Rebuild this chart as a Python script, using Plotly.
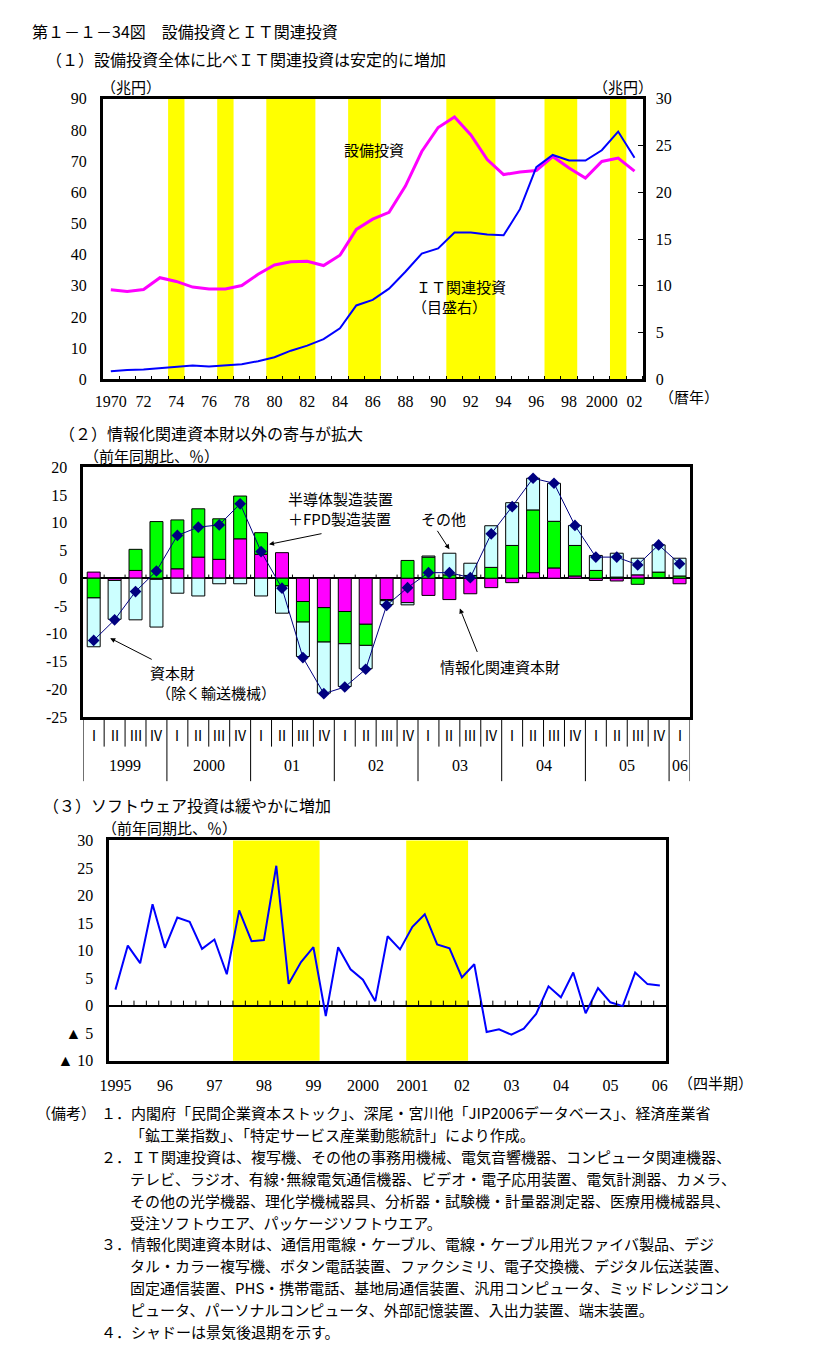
import plotly.graph_objects as go

W, H = 829, 1356


def px_x(p):
    return p / W


def px_y(p):
    return 1 - p / H


# ---------------- Panel 1 data ----------------
years = list(range(1970, 2003))
capex = [28.7, 28.2, 28.8, 32.6, 31.4, 29.6, 29.0, 29.0, 30.1, 33.7, 36.7, 37.7, 37.9,
         36.5, 39.8, 48.1, 51.4, 53.6, 62.0, 73.1, 80.8, 84.2, 78.4, 70.5, 65.7, 66.5,
         67.0, 71.5, 67.8, 64.6, 69.9, 71.0, 66.8]
it_invest = [0.85, 1.0, 1.05, 1.2, 1.37, 1.48, 1.37, 1.48, 1.62, 1.94, 2.36, 3.06, 3.6,
             4.3, 5.46, 7.9, 8.5, 9.7, 11.5, 13.45, 14.0, 15.7, 15.7, 15.5, 15.4, 18.2,
             22.7, 24.0, 23.4, 23.4, 24.5, 26.5, 23.7]
p1_tickvals = list(range(1970, 2003, 2))
p1_ticktext = ["1970", "72", "74", "76", "78", "80", "82", "84", "86", "88", "90", "92",
               "94", "96", "98", "2000", "02"]
rec1_start = [1974, 1977, 1980, 1985, 1991, 1997, 2001]
rec1_end = [1974, 1977, 1982, 1986, 1993, 1998, 2001]

# ---------------- Panel 2 data ----------------
q_labels = ["Ⅰ", "Ⅱ", "Ⅲ", "Ⅳ"] * 7 + ["Ⅰ"]
q_years = (["1999"] * 4 + ["2000"] * 4 + ["01"] * 4 + ["02"] * 4 + ["03"] * 4
           + ["04"] * 4 + ["05"] * 4 + ["06"])
info_cap = [1.1, -0.4, 1.4, -0.2, 1.7, 3.8, 3.4, 7.1, 4.3, 4.6, -4.2, -5.3, -6.0, -8.3,
            -3.85, -4.4, -3.1, -3.85, -2.8, -1.7, -0.8, 1.0, 1.85, 0.4, -0.4, -0.5, 0.6,
            0.1, -1.0]
semi_fpd = [-3.55, 0.0, 3.8, 10.2, 8.8, 8.7, 7.3, 7.7, 3.9, -1.4, -3.7, -6.2, -5.8, -3.8,
            -0.2, 3.2, 3.8, 0.6, 0.5, 1.95, 5.9, 11.3, 8.4, 5.5, 1.4, 0.2, -1.1, 1.0, 0.4]
others = [-8.8, -7.0, -7.5, -8.6, -2.7, -3.2, -1.0, -1.0, -3.2, -4.9, -6.2, -9.2, -7.7,
          -4.2, -0.7, -0.4, 0.2, 3.9, 2.2, 7.5, 7.7, 5.7, 6.85, 3.6, 2.7, 4.3, 3.0, 4.9, 3.2]
capital_goods = [-11.2, -7.5, -2.4, 1.3, 7.7, 9.2, 9.6, 13.4, 4.8, -1.8, -14.3, -20.8,
                 -19.6, -16.4, -4.9, -1.7, 1.0, 1.0, 0.1, 8.0, 12.9, 18.0, 17.1, 9.5, 3.8,
                 3.8, 2.4, 6.0, 2.6]
p2_tickvals = [-25, -20, -15, -10, -5, 0, 5, 10, 15, 20]
p2_ticktext = ["-25", "-20", "-15", "-10", "-5", "0", "5", "10", "15", "20"]

# ---------------- Panel 3 data ----------------
sw_periods = [f"{y}Q{q}" for y in range(1995, 2006) for q in range(1, 5)] + ["2006Q1"]
software = [2.9, 10.9, 7.7, 18.4, 10.5, 16.0, 15.2, 10.3, 12.0, 5.7, 17.3, 11.7, 11.9,
            25.4, 3.95, 7.9, 10.6, -1.9, 10.6, 6.6, 4.7, 0.8, 12.6, 10.2, 14.3, 16.6,
            11.1, 10.4, 5.1, 7.5, -4.8, -4.3, -5.3, -4.2, -1.5, 3.5, 1.5, 6.0, -1.4, 3.2,
            0.6, -0.1, 6.0, 3.9, 3.65]
p3_ticktext = ["1995", "96", "97", "98", "99", "2000", "2001", "02", "03", "04", "05", "06"]
p3_tickvals = [sw_periods.index(f"{1995 + k}Q1") for k in range(len(p3_ticktext))]
p3_yvals = [-10, -5, 0, 5, 10, 15, 20, 25, 30]
p3_ytext = ["▲ 10", "▲ 5", "0", "5", "10", "15", "20", "25", "30"]
rec3 = [("1997Q3", "1999Q1"), ("2001Q1", "2002Q1")]

notes = [
    "１．内閣府「民間企業資本ストック」、深尾・宮川他「JIP2006データベース」、経済産業省",
    "「鉱工業指数」、「特定サービス産業動態統計」により作成。",
    "２．ＩＴ関連投資は、複写機、その他の事務用機械、電気音響機器、コンピュータ関連機器、",
    "テレビ、ラジオ、有線･無線電気通信機器、ビデオ・電子応用装置、電気計測器、カメラ、",
    "その他の光学機器、理化学機械器具、分析器・試験機・計量器測定器、医療用機械器具、",
    "受注ソフトウエア、パッケージソフトウエア。",
    "３．情報化関連資本財は、通信用電線・ケーブル、電線・ケーブル用光ファイバ製品、デジ",
    "タル・カラー複写機、ボタン電話装置、ファクシミリ、電子交換機、デジタル伝送装置、",
    "固定通信装置、PHS・携帯電話、基地局通信装置、汎用コンピュータ、ミッドレンジコン",
    "ピュータ、パーソナルコンピュータ、外部記憶装置、入出力装置、端末装置。",
    "４．シャドーは景気後退期を示す。",
]
note_indent = [0, 1, 0, 1, 1, 1, 0, 1, 1, 1, 0]

JP = "Noto Sans CJK JP"
NUM = "Liberation Serif"
YELLOW = "#FFFF00"

fig = go.Figure()

# Panel 1 traces
fig.add_trace(go.Scatter(x=years, y=capex, mode="lines", line=dict(color="#FF00FF", width=3),
                         xaxis="x", yaxis="y", name="設備投資"))
fig.add_trace(go.Scatter(x=years, y=it_invest, mode="lines", line=dict(color="#0000FF", width=2),
                         xaxis="x", yaxis="y2", name="ＩＴ関連投資"))

# Panel 2 traces
idx2 = list(range(len(q_labels)))
for vals, col, nm in [(info_cap, "#FF00FF", "情報化関連資本財"),
                      (semi_fpd, "#00FF00", "半導体製造装置＋FPD製造装置"),
                      (others, "#CCFFFF", "その他")]:
    fig.add_trace(go.Bar(x=idx2, y=vals, marker=dict(color=col, line=dict(color="black", width=1)),
                         xaxis="x2", yaxis="y3", name=nm, width=0.62))
fig.add_trace(go.Scatter(x=idx2, y=capital_goods, mode="lines+markers",
                         line=dict(color="#000080", width=1),
                         marker=dict(symbol="diamond", size=9, color="#000080"),
                         xaxis="x2", yaxis="y3", name="資本財（除く輸送機械）"))

# Panel 3 trace
idx3 = list(range(len(sw_periods)))
fig.add_trace(go.Scatter(x=idx3, y=software, mode="lines", line=dict(color="#0000FF", width=2),
                         xaxis="x3", yaxis="y4", name="ソフトウェア投資"))

shapes = []
for s, e in zip(rec1_start, rec1_end):
    shapes.append(dict(type="rect", xref="x", yref="y domain", x0=s - 0.5, x1=e + 0.5, y0=0, y1=1,
                       fillcolor=YELLOW, line=dict(width=0), layer="below"))
for s, e in rec3:
    shapes.append(dict(type="rect", xref="x3", yref="y4 domain",
                       x0=sw_periods.index(s) - 0.5, x1=sw_periods.index(e) + 0.5, y0=0, y1=1,
                       fillcolor=YELLOW, line=dict(width=0), layer="below"))
for i in range(len(q_labels) - 1):
    shapes.append(dict(type="line", xref="x2", yref="y3", x0=i + 0.5, x1=i + 0.5, y0=0, y1=0.65,
                       line=dict(color="black", width=1)))
for i in range(len(sw_periods) - 1):
    shapes.append(dict(type="line", xref="x3", yref="y4", x0=i + 0.5, x1=i + 0.5, y0=0, y1=0.9,
                       line=dict(color="black", width=1)))
n2 = len(q_labels)
for b in range(n2 + 1):
    is_year = b == 0 or b == n2 or q_years[b] != q_years[b - 1]
    y_bot = 783 if is_year else 748
    shapes.append(dict(type="line", xref="x2", yref="paper", x0=b - 0.5, x1=b - 0.5,
                       y0=px_y(719), y1=px_y(y_bot), line=dict(color="black", width=1)))

annotations = []


def txt(text, x, y, size=15, xanchor="left", xref="paper", yref="paper", family=JP):
    annotations.append(dict(text=text, x=x, y=y, xref=xref, yref=yref, xanchor=xanchor,
                            yanchor="middle", showarrow=False, align="left",
                            font=dict(family=family, size=size, color="black")))


def arrow(x, y, ax, ay, xref, yref):
    annotations.append(dict(text="", x=x, y=y, xref=xref, yref=yref, ax=ax, ay=ay,
                            showarrow=True, arrowhead=2, arrowsize=1, arrowwidth=1,
                            arrowcolor="black"))


txt("第１－１－34図　設備投資とＩＴ関連投資", px_x(20), px_y(23), size=16)
txt("（１）設備投資全体に比べＩＴ関連投資は安定的に増加", px_x(35), px_y(52), size=16)
txt("（兆円）", px_x(90), px_y(80))
txt("（兆円）", px_x(590), px_y(80))
txt("（暦年）", px_x(656), px_y(393))
txt("設備投資", 1986.1, 73.8, xanchor="center", xref="x", yref="y")
txt("ＩＴ関連投資", 1991.4, 29.8, xanchor="center", xref="x", yref="y")
txt("（目盛右）", 1990.7, 23.4, xanchor="center", xref="x", yref="y")

txt("（２）情報化関連資本財以外の寄与が拡大", px_x(48), px_y(430), size=16)
txt("（前年同期比、％）", px_x(73), px_y(453))
txt("半導体製造装置<br>＋FPD製造装置", 11.8, 12.5, xanchor="center", xref="x2", yref="y3")
txt("その他", 16.7, 10.7, xanchor="center", xref="x2", yref="y3")
txt("情報化関連資本財", 19.4, -15.9, xanchor="center", xref="x2", yref="y3")
txt("資本財", 3.77, -17.0, xanchor="center", xref="x2", yref="y3")
txt("（除く輸送機械）", 5.85, -20.6, xanchor="center", xref="x2", yref="y3")
arrow(8.38, 6.1, 54, -11, "x2", "y3")
arrow(17.0, 5.2, -13, -20, "x2", "y3")
arrow(17.5, -5.45, 18, 45, "x2", "y3")
arrow(0.79, -10.8, 43, 22, "x2", "y3")

for i, q in enumerate(q_labels):
    txt(q, i, px_y(736), size=14, xanchor="center", xref="x2")
groups = []
for i, yv in enumerate(q_years):
    if not groups or groups[-1][0] != yv:
        groups.append([yv, i, i])
    else:
        groups[-1][2] = i
for yv, a, b in groups:
    txt(yv, (a + b) / 2, px_y(767), size=16, xanchor="center", xref="x2", family=NUM)

txt("（３）ソフトウェア投資は緩やかに増加", px_x(31), px_y(807), size=16)
txt("（前年同期比、％）", px_x(91), px_y(830))
txt("（四半期）", px_x(676), px_y(1088))

# notes
note_y0, note_dy = 1119, 22.1
txt("（備考）", px_x(24), px_y(note_y0))
for k, (t, ind) in enumerate(zip(notes, note_indent)):
    txt(t, px_x(90 + 30 * ind), px_y(note_y0 + note_dy * k))

tickfont = dict(family=NUM, size=16, color="black")
axis_common = dict(showgrid=False, zeroline=False, showline=True, mirror=True,
                   linecolor="black", linewidth=2.5, tickfont=tickfont)

fig.update_layout(
    width=W, height=H, margin=dict(l=0, r=0, t=0, b=0),
    paper_bgcolor="white", plot_bgcolor="white", showlegend=False,
    barmode="relative", font=dict(family=JP, size=15, color="black"),
    xaxis=dict(domain=[px_x(94), px_x(642)], anchor="y", range=[1969.5, 2002.5],
               tickmode="array", tickvals=p1_tickvals, ticktext=p1_ticktext, ticks="",
               tickangle=0, ticklabelstandoff=6,
               minor=dict(tickmode="linear", tick0=1969.5, dtick=1, ticks="inside",
                          ticklen=4, tickcolor="black", showgrid=False),
               **axis_common),
    yaxis=dict(domain=[px_y(376), px_y(92)], anchor="x", range=[0, 90], tickmode="array",
               tickvals=list(range(0, 91, 10)), ticks="", ticklabelstandoff=10, **axis_common),
    yaxis2=dict(overlaying="y", side="right", anchor="x", range=[0, 30], tickmode="array",
                tickvals=list(range(0, 31, 5)), ticks="inside", ticklen=5, tickcolor="black",
                showgrid=False, zeroline=False, showline=False, tickfont=tickfont,
                ticklabelstandoff=12),
    xaxis2=dict(domain=[px_x(74.3), px_x(690)], anchor="y3", range=[-0.5, len(q_labels) - 0.5],
                showticklabels=False, ticks="", **axis_common),
    yaxis3=dict(domain=[px_y(718), px_y(465)], anchor="x2", range=[-25, 20], tickmode="array",
                tickvals=p2_tickvals, ticktext=p2_ticktext, ticks="", ticklabelstandoff=10,
                showgrid=False, zeroline=True, zerolinecolor="black", zerolinewidth=1.5,
                showline=True, mirror=True, linecolor="black", linewidth=2.5, tickfont=tickfont),
    xaxis3=dict(domain=[px_x(100.7), px_x(665.7)], anchor="y4",
                range=[-0.5, len(sw_periods) - 0.5], tickmode="array", tickvals=p3_tickvals,
                ticktext=p3_ticktext, ticks="", tickangle=0, ticklabelstandoff=8, **axis_common),
    yaxis4=dict(domain=[px_y(1066), px_y(843)], anchor="x3", range=[-10, 30], tickmode="array",
                tickvals=p3_yvals, ticktext=p3_ytext, ticks="", ticklabelstandoff=10,
                showgrid=False, zeroline=True, zerolinecolor="black", zerolinewidth=1.5,
                showline=True, mirror=True, linecolor="black", linewidth=2.5, tickfont=tickfont),
    yaxis5=dict(overlaying="y4", side="right", anchor="x3", range=[0, 6], tickmode="linear",
                tick0=0, dtick=1, ticks="inside", ticklen=4, tickcolor="black",
                showticklabels=False, showgrid=False, zeroline=False, showline=False),
    shapes=shapes, annotations=annotations,
)

fig.write_html("out.html", config={"displayModeBar": False},
               post_script="document.body.style.margin='0px';document.body.style.overflow='hidden';")
